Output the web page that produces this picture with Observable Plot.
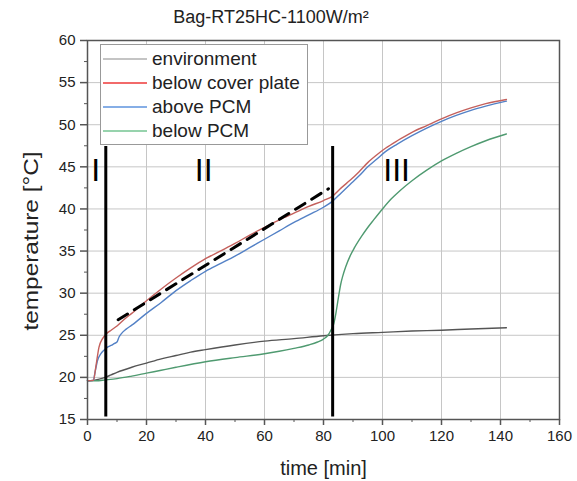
<!DOCTYPE html>
<html>
<head>
<meta charset="utf-8">
<script src="https://cdn.jsdelivr.net/npm/d3@7"></script>
<script src="https://cdn.jsdelivr.net/npm/@observablehq/plot@0.6"></script>
<style>
  body { margin: 0; background: #fff; font-family: "Liberation Sans", Arial, sans-serif; }
  #wrap { position: relative; width: 577px; height: 481px; }
  #title { width: 542px; height: 26px; line-height: 26px; padding-top: 4px; text-align: center; font-size: 18px; color: #222; }
  #legend { position: absolute; left: 100px; top: 44px; width: 206px; height: 97px; border: 1px solid #999; background: #fff; padding-top: 2px; box-sizing: content-box; }
  .row { height: 24px; display: flex; align-items: center; font-size: 19px; color: #222; white-space: nowrap; }
  .sw { width: 44px; height: 0; border-top: 2px solid; margin-left: 2px; margin-right: 5px; }
</style>
</head>
<body>
<div id="wrap">
  <div id="title">Bag-RT25HC-1100W/m²</div>
  <div id="chart"></div>
  <div id="legend"></div>
</div>
<script>
// ---- data ----
const seriesNames = ["environment", "below cover plate", "above PCM", "below PCM"];
const lineColors = ["#555555", "#c4605c", "#5381c6", "#4f9a70"];
const legendColors = ["#c4c4c4", "#f26a6a", "#86aee6", "#97d3ad"];

const envTime = [0, 2, 4, 6, 8, 10, 15, 20, 25, 30, 35, 40, 50, 60, 70, 80, 90, 100, 110, 120, 130, 142];
const envTemp = [19.6, 19.65, 19.8, 20.0, 20.3, 20.6, 21.2, 21.7, 22.2, 22.6, 23.0, 23.3, 23.85, 24.3, 24.6, 24.95, 25.2, 25.35, 25.5, 25.6, 25.75, 25.9];

const coverTime = [0, 2, 2.8, 3.9, 5.1, 6.5, 8, 10, 12.5, 15, 20, 25, 30, 35, 40, 45, 50, 55, 60, 65, 70, 75, 80, 83, 86, 89, 92, 95, 98, 101, 105, 110, 115, 120, 125, 130, 135, 142];
const coverTemp = [19.6, 19.65, 21.2, 23.6, 24.6, 25.2, 25.6, 26.1, 26.9, 27.6, 29.1, 30.5, 31.8, 33.0, 34.1, 35.0, 35.9, 36.9, 37.8, 38.7, 39.5, 40.3, 41.0, 41.5, 42.5, 43.4, 44.4, 45.5, 46.4, 47.2, 48.1, 49.1, 49.9, 50.7, 51.4, 52.0, 52.5, 53.0];

const abovePcmTime = [0, 2, 2.5, 3.4, 4.5, 5.5, 6.8, 8, 9, 10, 10.7, 11.5, 13, 15, 20, 25, 30, 35, 40, 45, 50, 55, 60, 65, 70, 75, 80, 83, 86, 89, 92, 95, 98, 101, 105, 110, 115, 120, 125, 130, 135, 142];
const abovePcmTemp = [19.6, 19.65, 20.5, 22.0, 22.8, 23.2, 23.6, 23.8, 24.0, 24.2, 24.8, 25.2, 25.7, 26.2, 27.6, 28.9, 30.3, 31.5, 32.6, 33.5, 34.4, 35.4, 36.4, 37.4, 38.4, 39.3, 40.2, 40.9, 41.9, 42.9, 43.9, 45.0, 45.9, 46.8, 47.7, 48.7, 49.6, 50.4, 51.1, 51.7, 52.2, 52.8];

const belowPcmTime = [0, 3, 6, 10, 15, 20, 25, 30, 40, 50, 60, 65, 70, 75, 78, 80, 81.5, 82.5, 83.5, 84.2, 84.7, 85.3, 85.8, 86.5, 87.5, 89, 90.5, 93, 95, 97, 100, 103, 106, 110, 115, 120, 125, 130, 135, 142];
const belowPcmTemp = [19.6, 19.6, 19.7, 19.85, 20.15, 20.5, 20.85, 21.2, 21.85, 22.35, 22.8, 23.1, 23.45, 23.85, 24.2, 24.55, 25.0, 25.6, 26.4, 27.6, 28.7, 30.0, 31.0, 32.0, 33.1, 34.4, 35.4, 36.8, 37.8, 38.7, 40.0, 41.2, 42.2, 43.35, 44.6, 45.7, 46.6, 47.4, 48.1, 48.9];

// dashed linear trend in phase II
const trendTime = [10.4, 81.7];
const trendTemp = [26.84, 42.4];

// phase boundaries and phase labels
const boundaryTime = [6.2, 83.1];
const boundaryBottom = 15.3;
const boundaryTop = 47.4;
const phaseLabels = ["I", "II", "III"];
const phaseLabelTime = [2.8, 39.4, 104.8];
const phaseLabelTemp = 43.27;

// axes
const xTicks = [0, 20, 40, 60, 80, 100, 120, 140, 160];
const xMinor = [10, 30, 50, 70, 90, 110, 130, 150];
const yTicks = [15, 20, 25, 30, 35, 40, 45, 50, 55, 60];
const yMinor = [17.5, 22.5, 27.5, 32.5, 37.5, 42.5, 47.5, 52.5, 57.5];
const xLabel = "time [min]";
const yLabel = "temperature [°C]";

// ---- build tables ----
const zip = (ts, vs) => ts.map((t, i) => ({t, v: vs[i]}));
const series = [
  zip(envTime, envTemp),
  zip(coverTime, coverTemp),
  zip(abovePcmTime, abovePcmTemp),
  zip(belowPcmTime, belowPcmTemp)
];
const trend = zip(trendTime, trendTemp);
const labels = phaseLabels.map((s, i) => ({s, t: phaseLabelTime[i], v: phaseLabelTemp}));

const drawOrder = [0, 3, 2, 1];

const chart = Plot.plot({
  width: 577,
  height: 451,
  marginLeft: 87,
  marginRight: 18,
  marginTop: 10,
  marginBottom: 62,
  x: {domain: [0, 160]},
  y: {domain: [15, 60]},
  style: {fontFamily: "Liberation Sans, Arial, sans-serif", fontSize: "15px", color: "#222", background: "#fff", overflow: "visible"},
  marks: [
    Plot.gridX(xTicks, {stroke: "#c6c6c6", strokeOpacity: 1, strokeWidth: 1}),
    Plot.gridY(yTicks, {stroke: "#c6c6c6", strokeOpacity: 1, strokeWidth: 1}),
    Plot.axisX(xMinor, {tickSize: 3, tickFormat: () => "", label: null, stroke: "#555"}),
    Plot.axisX(xTicks, {tickSize: 6, tickPadding: 5, label: null, stroke: "#555", strokeWidth: 1.5, tickFormat: d => String(d)}),
    Plot.axisY(yMinor, {tickSize: 3, tickFormat: () => "", label: null, stroke: "#555"}),
    Plot.axisY(yTicks, {tickSize: 7, tickPadding: 5, label: null, stroke: "#555", strokeWidth: 1.5, tickFormat: d => String(d)}),
    ...drawOrder.map(i => Plot.line(series[i], {x: "t", y: "v", stroke: lineColors[i], strokeWidth: 1.4, curve: "monotone-x"})),
    Plot.line(trend, {x: "t", y: "v", stroke: "#000", strokeWidth: 3, strokeDasharray: "11,8"}),
    Plot.ruleX(boundaryTime, {x: d => d, y1: boundaryBottom, y2: boundaryTop, stroke: "#000", strokeWidth: 3}),
    Plot.text(labels, {x: "t", y: "v", text: "s", fontSize: 32, lineAnchor: "bottom", fill: "#000"}),
    Plot.frame({stroke: "#555", strokeWidth: 1.5}),
    Plot.text([xLabel], {frameAnchor: "bottom", text: d => d, dy: 55, fontSize: 20, lineAnchor: "bottom", fill: "#222"}),
    Plot.text([yLabel], {frameAnchor: "left", text: d => d, textAnchor: "middle", rotate: -90, dx: -56, dy: 11, fontSize: 20, fill: "#222"})
  ]
});
document.getElementById("chart").appendChild(chart);

// the reference's y-axis title is drawn elongated along its direction
d3.select(chart).selectAll("text").filter(function () { return this.textContent === yLabel; })
  .each(function () {
    const t = this.getAttribute("transform") || "";
    this.setAttribute("transform", t + " scale(1.22,1)");
  });

// legend (inside the plot frame, top-left)
const legend = document.getElementById("legend");
seriesNames.forEach((name, i) => {
  const row = document.createElement("div");
  row.className = "row";
  const sw = document.createElement("div");
  sw.className = "sw";
  sw.style.borderTopColor = legendColors[i];
  const tx = document.createElement("span");
  tx.textContent = name;
  row.appendChild(sw);
  row.appendChild(tx);
  legend.appendChild(row);
});
</script>
</body>
</html>
